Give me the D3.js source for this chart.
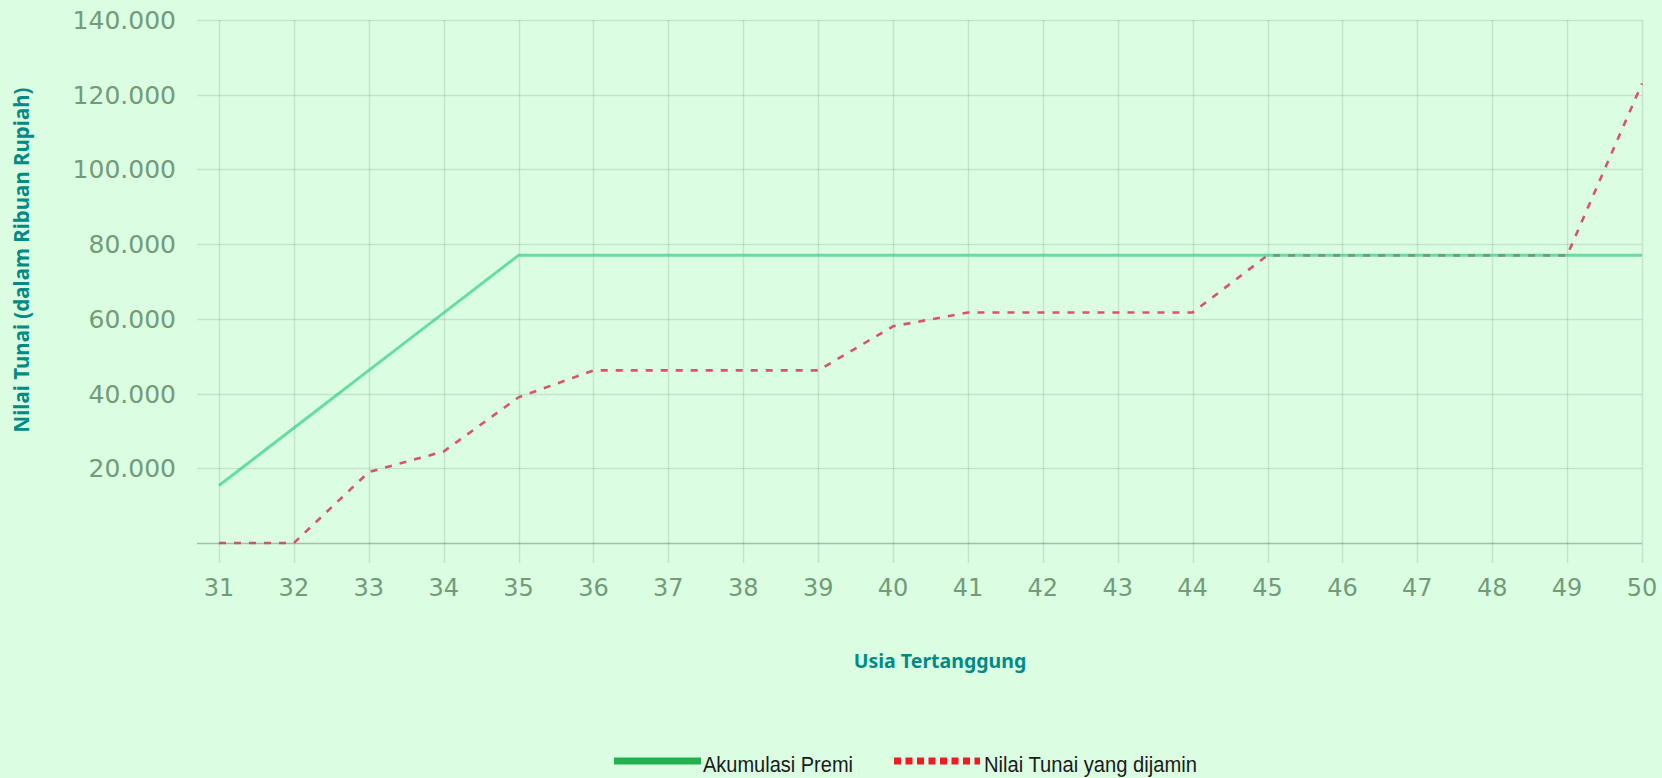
<!DOCTYPE html>
<html>
<head>
<meta charset="utf-8">
<script src="https://cdn.jsdelivr.net/npm/d3@7"></script>
<style>
  html, body { margin: 0; padding: 0; background: #dbfee3; }
  svg { display: block; }
</style>
</head>
<body>
<svg id="chart" width="1662" height="778"></svg>
<script>
const ages = [31,32,33,34,35,36,37,38,39,40,41,42,43,44,45,46,47,48,49,50];
const akumulasiPremi = [15400,30800,46200,61600,77000,77000,77000,77000,77000,77000,77000,77000,77000,77000,77000,77000,77000,77000,77000,77000];
const nilaiTunai = [0,0,19000,24500,39000,46200,46200,46200,46200,58000,61700,61700,61700,61700,77000,77000,77000,77000,77000,123000];
const yTicks = [20000,40000,60000,80000,100000,120000,140000];
const seriesNames = ["Akumulasi Premi", "Nilai Tunai yang dijamin"];
const xTitle = "Usia Tertanggung";
const yTitle = "Nilai Tunai (dalam Ribuan Rupiah)";

(function () {
const svg = d3.select("#chart");
const W = 1662, H = 778;
svg.append("rect").attr("width", W).attr("height", H).attr("fill", "#dbfee3");

const pLeft = 219, pRight = 1642, pTop = 20, pBottom = 543;
const x = d3.scaleLinear().domain([31, 50]).range([pLeft, pRight]);
const y = d3.scaleLinear().domain([0, 140000]).range([pBottom, pTop]);

const loc = d3.formatLocale({decimal: ",", thousands: ".", grouping: [3], currency: ["", ""]});
const fmt = loc.format(",.0f");

const tickColor = "#729c77";
const gridColor = "rgba(0,0,0,0.1)";

const g = svg.append("g");
g.selectAll("line.h").data(yTicks).join("line")
  .attr("x1", pLeft - 22).attr("x2", pRight)
  .attr("y1", d => Math.round(y(d)) + 0.5).attr("y2", d => Math.round(y(d)) + 0.5)
  .attr("stroke", gridColor).attr("stroke-width", 1.5);
g.selectAll("line.v").data(ages).join("line")
  .attr("x1", d => Math.round(x(d)) + 0.5).attr("x2", d => Math.round(x(d)) + 0.5)
  .attr("y1", pTop).attr("y2", pBottom + 20)
  .attr("stroke", gridColor).attr("stroke-width", 1.5);
g.append("line").attr("x1", pLeft - 22).attr("x2", pRight)
  .attr("y1", y(0) + 0.5).attr("y2", y(0) + 0.5)
  .attr("stroke", "rgba(0,0,0,0.25)").attr("stroke-width", 1.5);

svg.append("g").selectAll("text").data(yTicks).join("text")
  .attr("x", 176).attr("y", d => y(d))
  .attr("dy", "0.36em")
  .attr("text-anchor", "end")
  .attr("font-family", "DejaVu Sans")
  .attr("font-size", 25)
  .attr("fill", tickColor)
  .text(d => fmt(d));

svg.append("g").selectAll("text").data(ages).join("text")
  .attr("x", d => x(d)).attr("y", 596)
  .attr("text-anchor", "middle")
  .attr("font-family", "DejaVu Sans")
  .attr("font-size", 24)
  .attr("fill", tickColor)
  .text(d => d);

const line = d3.line().x(d => x(d[0])).y(d => y(d[1]));
svg.append("path")
  .datum(ages.map((a, i) => [a, nilaiTunai[i]]))
  .attr("d", line)
  .attr("fill", "none")
  .attr("stroke", "#d6435c")
  .attr("stroke-width", 2.6)
  .attr("stroke-dasharray", "7,8")
  .attr("opacity", 0.9);
svg.append("path")
  .datum(ages.map((a, i) => [a, akumulasiPremi[i]]))
  .attr("d", line)
  .attr("fill", "none")
  .attr("stroke", "#28cc7e")
  .attr("stroke-width", 3)
  .attr("opacity", 0.65);

svg.append("text")
  .attr("x", 940).attr("y", 668)
  .attr("text-anchor", "middle")
  .attr("font-family", "Noto Sans")
  .attr("font-weight", "bold")
  .attr("font-size", 19.5)
  .attr("fill", "#008b84")
  .text(xTitle);
svg.append("text")
  .attr("transform", "translate(29,260) rotate(-90)")
  .attr("text-anchor", "middle")
  .attr("font-family", "Noto Sans")
  .attr("font-weight", "bold")
  .attr("font-size", 20.5)
  .attr("fill", "#008b84")
  .text(yTitle);

const lg = svg.append("g");
lg.append("line").attr("x1", 614).attr("x2", 701).attr("y1", 761).attr("y2", 761)
  .attr("stroke", "#22b14c").attr("stroke-width", 7);
lg.append("text").attr("x", 703).attr("y", 772)
  .attr("font-family", "Liberation Sans")
  .attr("font-size", 22).attr("fill", "#1a1a1a")
  .attr("textLength", 150).attr("lengthAdjust", "spacingAndGlyphs")
  .text(seriesNames[0]);
lg.append("line").attr("x1", 894).attr("x2", 980).attr("y1", 761).attr("y2", 761)
  .attr("stroke", "#ed1c24").attr("stroke-width", 7)
  .attr("stroke-dasharray", "7,4.5");
lg.append("text").attr("x", 984).attr("y", 772)
  .attr("font-family", "Liberation Sans")
  .attr("font-size", 22).attr("fill", "#1a1a1a")
  .attr("textLength", 213).attr("lengthAdjust", "spacingAndGlyphs")
  .text(seriesNames[1]);
})();
</script>
</body>
</html>
